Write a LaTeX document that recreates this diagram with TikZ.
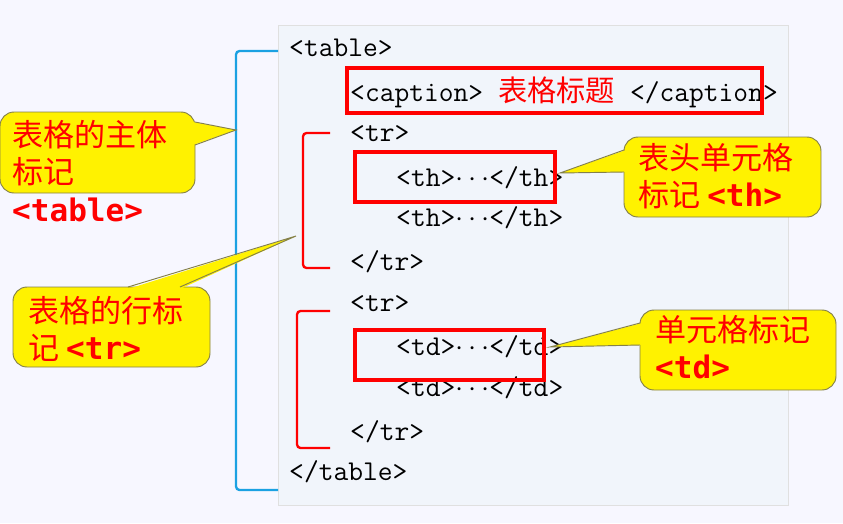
\documentclass[tikz,border=0pt]{standalone}
\usepackage{fontspec}
\newfontfamily\cjk{Noto Sans CJK SC}
\newfontfamily\mb{DejaVu Sans Mono}
\begin{document}
\begin{tikzpicture}[x=0.03cm,y=-0.03cm,
  code/.style={anchor=base west,inner sep=0,font=\ttfamily\fontsize{24.5}{24}\selectfont},
  lab/.style={anchor=north west,inner sep=0,align=left,text=red,font=\cjk\fontsize{26.5}{33}\selectfont},
  redbox/.style={draw=red,line width=2.8pt},
  brk/.style={draw=red,line width=2pt},
  call/.style={fill=yellow,draw=black!55!yellow,line width=0.8pt,rounded corners=12},
  ptr/.style={fill=yellow,draw=black!55!yellow,line width=0.8pt}]
\useasboundingbox (0,0) rectangle (843,523);
\fill[blue!3] (0,0) rectangle (843,523);
\draw[fill={rgb,255:red,241;green,245;blue,251},draw=black!12] (278,25) rectangle (788,505);
% code
\node[code] (t1) at (289,56) {<table>};
\node[code] (cap) at (350,101) {<caption> {\cjk\fontsize{25}{25}\selectfont\color{red}表格标题} </caption>};
\node[code] (tr1) at (350,141) {<tr>};
\node[code] (th1) at (396,186) {<th>$\cdots$</th>};
\node[code] (th2) at (396,226) {<th>$\cdots$</th>};
\node[code] (tr1e) at (350,270) {</tr>};
\node[code] (tr2) at (350,311) {<tr>};
\node[code] (td1) at (396,355) {<td>$\cdots$</td>};
\node[code] (td2) at (396,396) {<td>$\cdots$</td>};
\node[code] (tr2e) at (350,440) {</tr>};
\node[code] (t2) at (289,480) {</table>};
% red boxes
\draw[redbox] (347,68) rectangle (762,113);
\draw[redbox] (355,152) rectangle (555,202);
\draw[redbox] (355,330) rectangle (544,380);
% brackets
\draw[draw={rgb,255:red,27;green,161;blue,226},line width=2pt,rounded corners=3] (278,51) -- (236,51) -- (236,490) -- (278,490);
\draw[brk,rounded corners=3] (330,133) -- (303,133) -- (303,268) -- (330,268);
\draw[brk,rounded corners=3] (330,311) -- (297,311) -- (297,448) -- (330,448);
% callout 1
\draw[call] (0,112) rectangle (195,193);
\coordinate (p1) at (236,130);
\fill[yellow] (193,122) -- (p1) -- (193,145) -- cycle;
\draw[ptr,fill=none] (195,122) -- (p1) -- (195,145);
\node[lab] (l1) at (12,120) {表格的主体\\[-1pt]标记\\[-1pt]{\mb\bfseries <table>}};
% callout 2
\draw[call] (13,287) rectangle (210,367);
\coordinate (p2) at (296,236);
\fill[yellow] (128,289) -- (p2) -- (180,289) -- cycle;
\draw[ptr,fill=none] (128,287) -- (p2) -- (180,287);
\node[lab] (l2) at (28,296) {表格的行标\\[-1pt]记 {\mb\bfseries <tr>}};
% callout 3
\draw[call] (624,137) rectangle (821,217);
\coordinate (p3) at (560,173);
\fill[yellow] (626,150) -- (p3) -- (626,172) -- cycle;
\draw[ptr,fill=none] (624,150) -- (p3) -- (624,172);
\node[lab] (l3) at (638,143) {表头单元格\\[-1pt]标记 {\mb\bfseries <th>}};
% callout 4
\draw[call] (640,310) rectangle (836,390);
\coordinate (p4) at (550,347);
\fill[yellow] (642,323) -- (p4) -- (642,345) -- cycle;
\draw[ptr,fill=none] (640,323) -- (p4) -- (640,345);
\node[lab] (l4) at (655,315) {单元格标记\\[-1pt]{\mb\bfseries <td>}};
\end{tikzpicture}
\end{document}
